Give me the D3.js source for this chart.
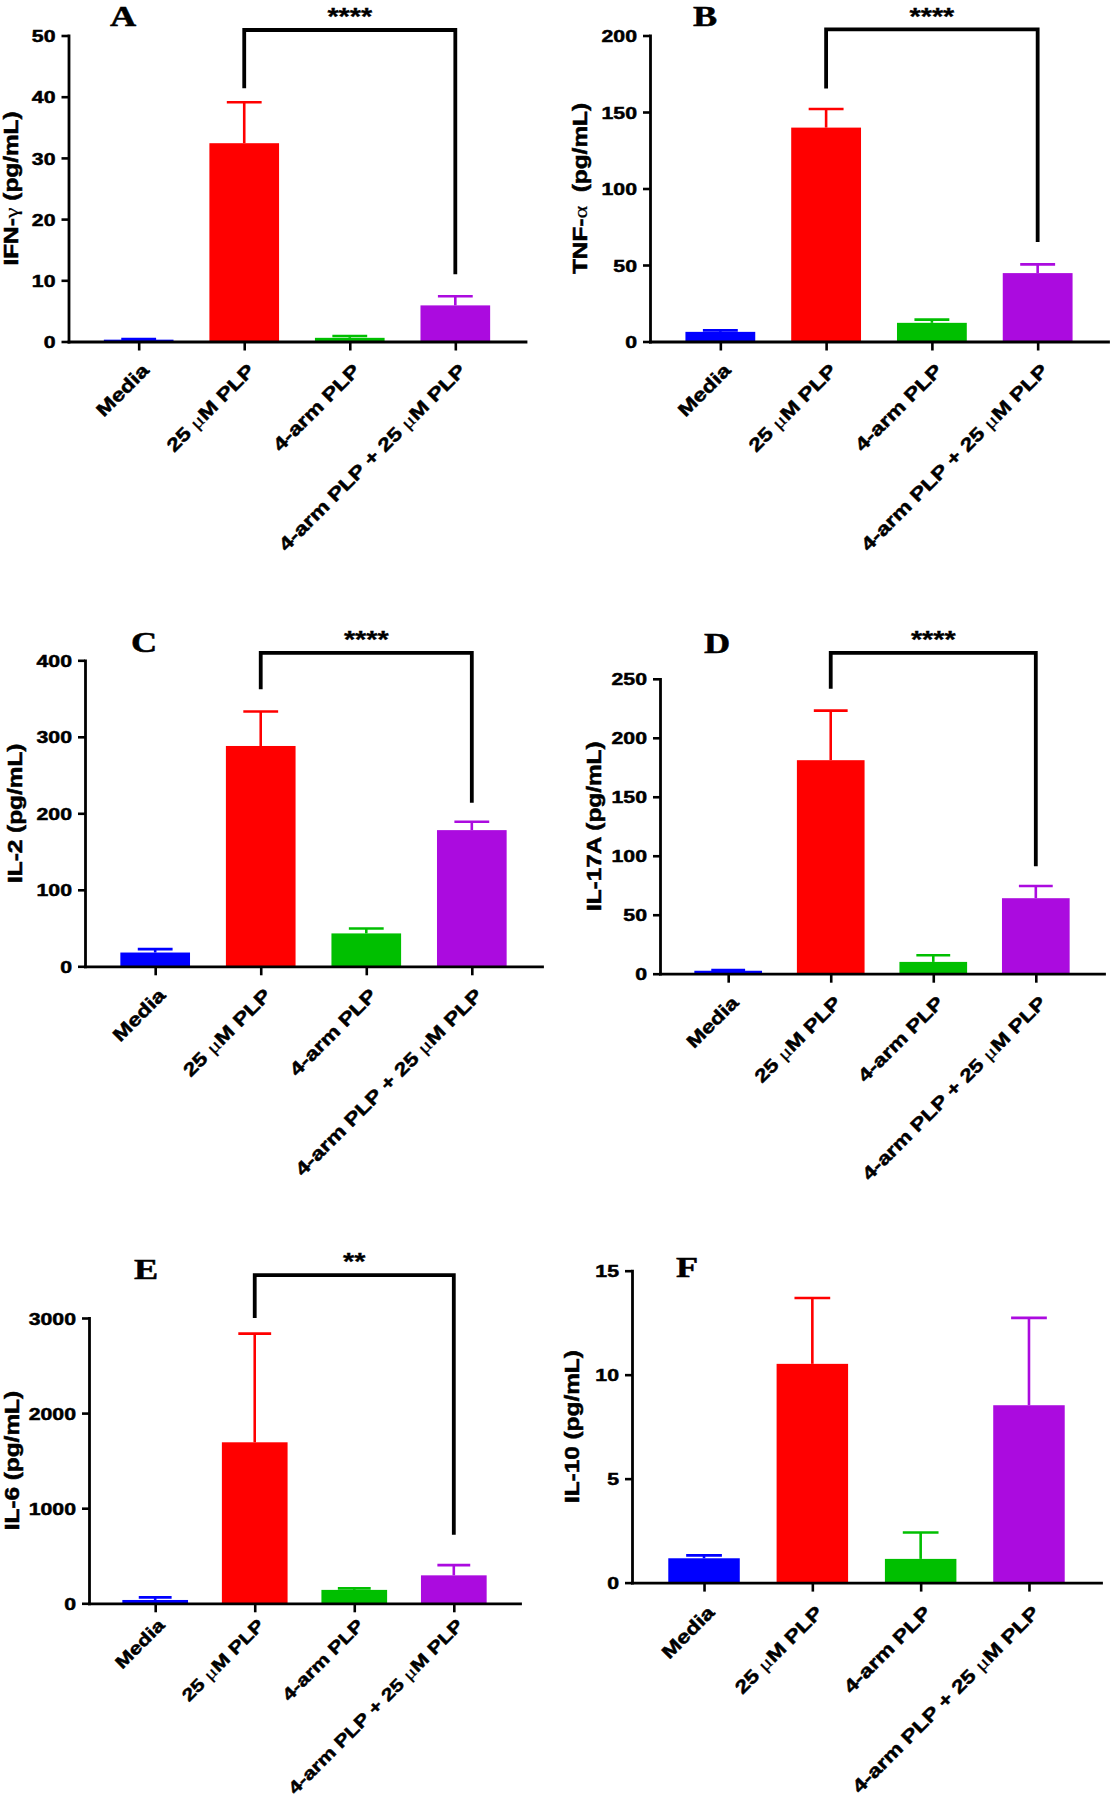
<!DOCTYPE html>
<html>
<head>
<meta charset="utf-8">
<script src="https://cdn.jsdelivr.net/npm/d3@7"></script>
<style>
  html, body { margin: 0; padding: 0; background: #fff; }
  svg { display: block; }
</style>
</head>
<body>
<svg id="chart" width="1110" height="1800"></svg>
<script>
// ---------------- data ----------------
const categories = ["Media", "25 μM PLP", "4-arm PLP", "4-arm PLP + 25 μM PLP"];
const panelLetters = ["A", "B", "C", "D", "E", "F"];
const yTitles = ["IFN-γ (pg/mL)", "TNF-α  (pg/mL)", "IL-2 (pg/mL)", "IL-17A (pg/mL)", "IL-6 (pg/mL)", "IL-10 (pg/mL)"];

const ticksIFN  = [0, 10, 20, 30, 40, 50];
const ticksTNF  = [0, 50, 100, 150, 200];
const ticksIL2  = [0, 100, 200, 300, 400];
const ticksIL17 = [0, 50, 100, 150, 200, 250];
const ticksIL6  = [0, 1000, 2000, 3000];
const ticksIL10 = [0, 5, 10, 15];

// bar means and upper ends of error bars
const meanIFN  = [0.3, 32.4, 0.6, 5.9];
const upperIFN = [0.4, 39.1, 0.9, 7.4];
const meanTNF  = [6.3, 139.8, 12.2, 44.7];
const upperTNF = [7.3, 152, 14.3, 50.4];
const meanIL2  = [18, 288, 43, 178];
const upperIL2 = [22.5, 333, 49.5, 189];
const meanIL17  = [2.5, 181, 10, 64];
const upperIL17 = [3, 223, 15.7, 74.3];
const meanIL6  = [35, 1693, 141, 294];
const upperIL6 = [62, 2836, 157, 401];
const meanIL10  = [1.17, 10.52, 1.14, 8.53];
const upperIL10 = [1.31, 13.69, 2.41, 12.73];

// significance brackets: [top level, left end level, right end level]
const bracketIFN  = [50.9, 41.4, 11.0];
const bracketTNF  = [204, 165.3, 65];
const bracketIL2  = [409.7, 362.3, 213.8];
const bracketIL17 = [272, 241.5, 91];
const bracketIL6  = [3451, 3000, 722];
const sigLabels = ["****", "****", "****", "****", "**", null];

// ---------------- styles / layout ----------------
const barColors = ["#0000FF", "#FF0000", "#00BF00", "#AB0BDF"];
const SANS = "'Liberation Sans', Arial, Helvetica, sans-serif";
const SERIF = "'Liberation Serif', 'Times New Roman', serif";
const SX = 1.25; // horizontal stretch of the glyphs
const EMB = 0.5; // extra stroke to embolden text

const layout = [
  {x0: 68.5, x1: 525.5, top: 35.5,  bottom: 341.5,  titleX: 12.5, letter: [123, 26],   starsY: 12.3, lab: [11.5, 30, 18.5]},
  {x0: 650,  x1: 1108,  top: 35.5,  bottom: 341.5,  titleX: 582,  letter: [705, 26],   starsY: 12.5, lab: [11.5, 30, 18.5]},
  {x0: 85,   x1: 542,   top: 660.3, bottom: 966.3,  titleX: 17,   letter: [144, 652],  starsY: 635,  lab: [11.5, 30, 18.5]},
  {x0: 660,  x1: 1104,  top: 678.8, bottom: 973.7,  titleX: 596,  letter: [717, 653],  starsY: 635,  lab: [11.5, 30, 18.2]},
  {x0: 89,   x1: 520,   top: 1318,  bottom: 1603.3, titleX: 14,   letter: [146, 1279], starsY: 1257, lab: [10.5, 23, 17.3]},
  {x0: 632,  x1: 1101,  top: 1270.7,bottom: 1582.6, titleX: 574,  letter: [687, 1277], starsY: null, lab: [11.5, 31, 18.5]}
];

const panels = [
  {ticks: ticksIFN,  mean: meanIFN,  upper: upperIFN,  bracket: bracketIFN},
  {ticks: ticksTNF,  mean: meanTNF,  upper: upperTNF,  bracket: bracketTNF},
  {ticks: ticksIL2,  mean: meanIL2,  upper: upperIL2,  bracket: bracketIL2},
  {ticks: ticksIL17, mean: meanIL17, upper: upperIL17, bracket: bracketIL17},
  {ticks: ticksIL6,  mean: meanIL6,  upper: upperIL6,  bracket: bracketIL6},
  {ticks: ticksIL10, mean: meanIL10, upper: upperIL10, bracket: null}
];

const svg = d3.select("#chart");
const greekRe = /([γαμ])/;

function mixedText(t, str) {
  str.split(greekRe).forEach(part => {
    if (!part) return;
    const sp = t.append("tspan").text(part);
    if (greekRe.test(part)) sp.attr("font-family", SERIF).attr("font-weight", "normal").attr("stroke-width", 0.2);
  });
}

function boldSans(sel, size) {
  return sel.attr("font-family", SANS).attr("font-weight", "bold").attr("font-size", size)
    .attr("fill", "#000").attr("stroke", "#000").attr("stroke-width", EMB);
}

panels.forEach((p, i) => {
  const L = layout[i];
  const g = svg.append("g");
  const x = d3.scalePoint().domain(categories).range([L.x0, L.x1]).padding(0.665);
  const y = d3.scaleLinear().domain([0, d3.max(p.ticks)]).range([L.bottom, L.top]);
  const bw = x.step() * 0.66;
  const rows = categories.map((c, k) => ({c, m: p.mean[k], u: p.upper[k], col: barColors[k]}));

  // error bars (upward only)
  const eb = g.append("g").attr("stroke-width", 2.6).attr("fill", "none");
  eb.selectAll("line.v").data(rows).join("line").attr("class", "v")
    .attr("x1", d => x(d.c)).attr("x2", d => x(d.c))
    .attr("y1", d => y(d.m)).attr("y2", d => y(d.u))
    .attr("stroke", d => d.col);
  eb.selectAll("line.cap").data(rows).join("line").attr("class", "cap")
    .attr("x1", d => x(d.c) - bw / 4).attr("x2", d => x(d.c) + bw / 4)
    .attr("y1", d => y(d.u)).attr("y2", d => y(d.u))
    .attr("stroke", d => d.col);

  // bars
  g.append("g").selectAll("rect").data(rows).join("rect")
    .attr("x", d => x(d.c) - bw / 2)
    .attr("y", d => y(d.m))
    .attr("width", bw)
    .attr("height", d => y(0) - y(d.m))
    .attr("fill", d => d.col);

  // y axis
  const ya = g.append("g").attr("transform", `translate(${L.x0},0)`)
    .call(d3.axisLeft(y).tickValues(p.ticks).tickFormat(d3.format("d")).tickSize(7).tickSizeOuter(0));
  ya.select(".domain").attr("stroke", "#000").attr("stroke-width", 2.8).attr("stroke-linecap", "square");
  ya.selectAll(".tick line").attr("stroke", "#000").attr("stroke-width", 2.6);
  boldSans(ya.selectAll(".tick text")
    .attr("x", null).attr("dy", "0.36em")
    .attr("transform", `translate(-13,0) scale(${SX},1)`), 17);

  // x axis
  const xa = g.append("g").attr("transform", `translate(0,${L.bottom})`)
    .call(d3.axisBottom(x).tickSize(9).tickSizeOuter(0).tickFormat(""));
  xa.select(".domain").attr("stroke", "#000").attr("stroke-width", 2.8).attr("stroke-linecap", "square");
  xa.selectAll(".tick line").attr("stroke", "#000").attr("stroke-width", 2.6);

  // category labels (rotated)
  categories.forEach(c => {
    const t = boldSans(g.append("text")
      .attr("transform", `translate(${x(c) + L.lab[0]},${L.bottom + L.lab[1]}) rotate(-45) scale(${SX},1)`)
      .attr("text-anchor", "end"), L.lab[2]);
    mixedText(t, c);
  });

  // y title
  const tt = boldSans(g.append("text")
    .attr("transform", `translate(${L.titleX},${(L.top + L.bottom) / 2}) rotate(-90) scale(${SX},1)`)
    .attr("text-anchor", "middle").attr("dy", "0.26em")
    .attr("xml:space", "preserve").style("white-space", "pre"), 19.5);
  mixedText(tt, yTitles[i]);

  // panel letter
  g.append("text")
    .attr("transform", `translate(${L.letter[0]},${L.letter[1]}) scale(${SX},1)`)
    .attr("text-anchor", "middle")
    .attr("font-family", SERIF).attr("font-weight", "bold").attr("font-size", 29)
    .attr("fill", "#000").attr("stroke", "#000").attr("stroke-width", 0.5)
    .text(panelLetters[i]);

  // significance bracket
  if (p.bracket) {
    const xl = x(categories[1]), xr = x(categories[3]);
    const path = d3.path();
    path.moveTo(xl, y(p.bracket[1]));
    path.lineTo(xl, y(p.bracket[0]));
    path.lineTo(xr, y(p.bracket[0]));
    path.lineTo(xr, y(p.bracket[2]));
    g.append("path").attr("d", path.toString())
      .attr("fill", "none").attr("stroke", "#000").attr("stroke-width", 3.8)
      .attr("stroke-linejoin", "miter");
    boldSans(g.append("text")
      .attr("transform", `translate(${(xl + xr) / 2},${L.starsY + 12.5}) scale(${SX},1)`)
      .attr("text-anchor", "middle"), 23)
      .attr("stroke-width", 0.3)
      .text(sigLabels[i]);
  }
});
</script>
</body>
</html>
